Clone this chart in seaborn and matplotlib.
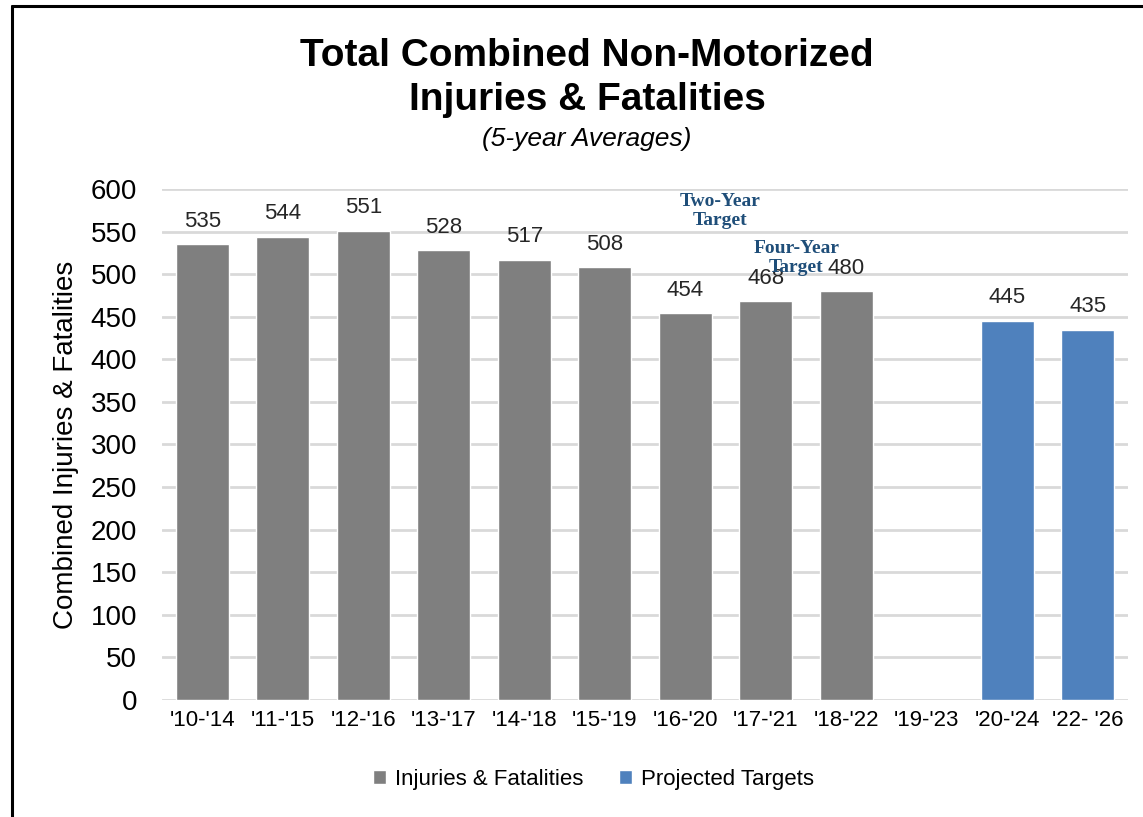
import pandas as pd
import matplotlib.pyplot as plt
import seaborn as sns
from matplotlib.lines import Line2D

# Chart data
periods = ["'10-'14", "'11-'15", "'12-'16", "'13-'17", "'14-'18", "'15-'19",
           "'16-'20", "'17-'21", "'18-'22", "'19-'23", "'20-'24", "'22- '26"]
values = [535, 544, 551, 528, 517, 508, 454, 468, 480, None, 445, 435]
series = ["Injuries & Fatalities"] * 9 + [None] + ["Projected Targets"] * 2

colors = {"Injuries & Fatalities": "#7F7F7F", "Projected Targets": "#4F81BD"}

df = pd.DataFrame({"period": periods, "value": values, "series": series}).dropna()

sns.set_style("white")
plt.rcParams["font.family"] = ["Liberation Sans", "DejaVu Sans"]
plt.rcParams["text.color"] = "black"
plt.rcParams["axes.labelcolor"] = "black"

fig = plt.figure(figsize=(11.43, 8.17), dpi=100)
ax = fig.add_axes([0.1417, 0.1432, 0.8452, 0.6255])

sns.barplot(data=df, x="period", y="value", hue="series", order=periods,
            hue_order=list(colors), palette=colors, dodge=False, width=0.66,
            saturation=1, ax=ax)

for cont in ax.containers:
    ax.bar_label(cont, fmt="%.0f", padding=9, fontsize=16, color="#262626")

ax.set_ylim(0, 600)
ax.set_yticks(range(0, 601, 50))
ax.yaxis.grid(True, color="#D9D9D9", linewidth=2)
ax.set_axisbelow(True)
for s in ax.spines.values():
    s.set_visible(False)
ax.tick_params(axis="y", length=0, pad=18, labelsize=20, labelcolor="black")
ax.tick_params(axis="x", length=0, pad=7, labelsize=16, labelcolor="black")
ax.set_xlabel("")
ax.set_ylabel("Combined Injuries & Fatalities", fontsize=20, labelpad=8)

# target annotations (overlap with the 468 label as in the source)
ax.text(6.43, 574, "Two-Year\nTarget", ha="center", va="center", fontsize=14,
        fontweight="bold", color="#1F4E79", family="Liberation Serif", linespacing=1.15)
ax.text(7.38, 519, "Four-Year\nTarget", ha="center", va="center", fontsize=14,
        fontweight="bold", color="#1F4E79", family="Liberation Serif", linespacing=1.15)

# legend at bottom
handles, labels = ax.get_legend_handles_labels()
ax.get_legend().remove()
fig.legend(handles, labels, loc="center", bbox_to_anchor=(0.519, 0.0465), ncol=2,
           frameon=False, fontsize=16, handlelength=0.6, handleheight=0.6,
           columnspacing=1.6, handletextpad=0.4)

# titles
fig.text(0.5136, 0.932, "Total Combined Non-Motorized", ha="center", va="center",
         fontsize=28, fontweight="bold")
fig.text(0.5136, 0.877, "Injuries & Fatalities", ha="center", va="center",
         fontsize=28, fontweight="bold")
fig.text(0.5136, 0.830, "(5-year Averages)", ha="center", va="center",
         fontsize=19, style="italic")

# chart border (left and top edges)
fig.add_artist(Line2D([0.0105, 0.0105], [0.0, 0.993], color="black", linewidth=2.2))
fig.add_artist(Line2D([0.0105, 1.0], [0.993, 0.993], color="black", linewidth=2.2))

fig.savefig("out.png", dpi=100)
